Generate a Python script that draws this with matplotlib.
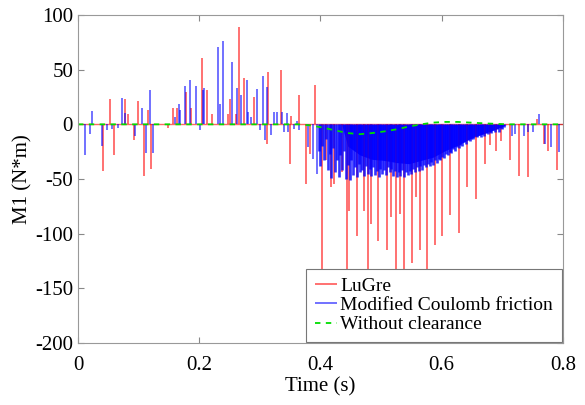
import matplotlib
matplotlib.use('Agg')
import matplotlib.pyplot as plt

# LuGre model spikes (time in s, M1 in N*m)
lugre_t = [0.041, 0.052, 0.060, 0.077, 0.083, 0.092, 0.099, 0.109, 0.116, 0.121,
           0.148, 0.157, 0.163, 0.179, 0.186, 0.204, 0.213, 0.221, 0.248, 0.251,
           0.260, 0.265, 0.274, 0.290, 0.312, 0.314, 0.335, 0.349, 0.352, 0.365,
           0.376, 0.383, 0.391,
           0.403, 0.409, 0.418, 0.422, 0.435, 0.444, 0.447, 0.460, 0.471, 0.479,
           0.484, 0.495, 0.509, 0.516, 0.524, 0.532, 0.537, 0.551, 0.558, 0.564,
           0.575, 0.589, 0.601, 0.613, 0.628, 0.642, 0.657, 0.671, 0.679, 0.690,
           0.697, 0.712, 0.727, 0.743, 0.757, 0.768, 0.776, 0.791]
lugre_v = [-43, 23, -28, 23, 9, -14, 21, -47, 13, -41,
           -3, 15, 15, 30, 15, 61, 31, 9, 9, 23,
           9, 89, 42, 25, -18, 48, 50, -36, 8, 27,
           -55, -27, 36,
           -160, -33, -57, -55, -44, -160, -79, -102, -79, -165,
           -91, -107, -115, -85, -160, -82, -165, -127, -66, -115,
           -160, -110, -102, -83, -99, -57, -68, -36, -19, -24,
           -15, -33, -47, -48, 5, -18, -24, -42]

# Modified Coulomb friction, isolated spikes
coul_t = [0.011, 0.020, 0.023, 0.040, 0.048, 0.056, 0.066, 0.073, 0.077, 0.094,
          0.105, 0.113, 0.119, 0.124, 0.160, 0.166, 0.168, 0.176, 0.184, 0.194,
          0.201, 0.206, 0.208, 0.231, 0.234, 0.239, 0.254, 0.263, 0.269, 0.278,
          0.281, 0.286, 0.296, 0.300, 0.306, 0.308, 0.312, 0.319, 0.323, 0.328,
          0.337, 0.340, 0.345, 0.347, 0.356, 0.361, 0.364, 0.380, 0.388, 0.395,
          0.716, 0.721, 0.735, 0.743, 0.750, 0.761, 0.770, 0.781, 0.794]
coul_v = [-28, -9, 12, -20, -5, -4, -3, 24, 10, -11,
          15, -26, 31, -26, 7, 19, 13, 35, 41, 35,
          -5, 31, 33, 71, 19, 76, 57, 33, 27, 41,
          11, 7, 32, -5, 44, -14, 34, -10, 11, 11,
          11, -7, 10, -7, -4, 3, -5, -21, -32, -45,
          -11, -9, -11, -7, -7, 9, -18, -21, -25]

# Modified Coulomb friction, dense impact region
dense_t = [0.397, 0.400, 0.403, 0.406, 0.409, 0.412, 0.415, 0.418, 0.421, 0.424,
           0.427, 0.430, 0.433, 0.436, 0.439, 0.442, 0.445, 0.448, 0.451, 0.454,
           0.457, 0.460, 0.463, 0.466, 0.469, 0.472, 0.475, 0.478, 0.481, 0.484,
           0.487, 0.490, 0.493, 0.496, 0.499, 0.502, 0.505, 0.508, 0.511, 0.514,
           0.517, 0.520, 0.523, 0.526, 0.529, 0.532, 0.535, 0.538, 0.541, 0.544,
           0.547, 0.550, 0.553, 0.556, 0.559, 0.562, 0.565, 0.568, 0.571, 0.574,
           0.577, 0.580, 0.583, 0.586, 0.589, 0.592, 0.595, 0.598, 0.601, 0.604,
           0.607, 0.610, 0.613, 0.616, 0.619, 0.622, 0.625, 0.628, 0.631, 0.634,
           0.637, 0.640, 0.643, 0.646, 0.649, 0.652, 0.655, 0.658, 0.661, 0.664,
           0.667, 0.670, 0.673, 0.676, 0.679, 0.682, 0.685, 0.688, 0.691, 0.694,
           0.697, 0.700, 0.703]
dense_v = [-24, -38, -20, -33, -13, -42, -27, -49, -22, -44,
           -33, -48, -28, -42, -24, -50, -37, -51, -33, -46,
           -39, -48, -36, -44, -42, -47, -38, -45, -41, -47,
           -39, -46, -43, -48, -41, -45, -42, -46, -39, -44,
           -41, -47, -43, -48, -44, -47, -42, -48, -44, -46,
           -43, -45, -41, -44, -39, -43, -38, -42, -37, -39,
           -36, -38, -34, -37, -33, -35, -32, -33, -30, -31,
           -27, -28, -25, -26, -23, -24, -21, -22, -19, -20,
           -16, -18, -14, -15, -13, -13, -11, -12, -10, -12,
           -9, -11, -8, -9, -7, -8, -5, -7, -4, -7,
           -3, -4, -2]

# solid core of the dense region
core_t = [0.435, 0.445, 0.465, 0.485, 0.505, 0.526, 0.546, 0.566, 0.586, 0.606,
          0.627, 0.647, 0.667, 0.687, 0.707]
core_v = [0, -20, -28, -32, -33, -35, -36, -33, -30, -24, -19, -13, -9, -5, 0]

# without clearance
ref_t = [0, 0.364, 0.384, 0.404, 0.424, 0.445, 0.465, 0.485, 0.505, 0.526, 0.546,
         0.566, 0.586, 0.606, 0.627, 0.647, 0.667, 0.687, 0.707, 0.8]
ref_v = [0, 0, -1, -3, -5.5, -8, -9, -8, -6.5, -4.5, -2,
         0, 1.6, 2.2, 2.2, 1.6, 1, 0.5, 0, 0]

plt.rcParams['font.family'] = 'Liberation Serif'
plt.rcParams['axes.unicode_minus'] = False

fig = plt.figure(figsize=(5.85, 4.05), dpi=100)
ax = fig.add_axes([0.1333, 0.153, 0.829, 0.81])

ax.plot([0, 0.8], [0, 0], color='red', lw=1, alpha=0.6)
ax.vlines(lugre_t, 0, lugre_v, color='red', lw=1.3, alpha=0.6, label='LuGre')
ax.fill_between(core_t, 0, core_v, color='blue', alpha=0.9, lw=0)
ax.vlines(dense_t, 0, dense_v, color='blue', lw=1.9, alpha=0.8)
ax.vlines(coul_t, 0, coul_v, color='blue', lw=1.3, alpha=0.6,
          label='Modified Coulomb friction')
ax.plot(ref_t, ref_v, color='#00dd00', ls=(0, (3, 3)), lw=1.3, label='Without clearance')

ax.set_xlim(0, 0.8)
ax.set_ylim(-200, 100)
ax.set_xticks([0, 0.2, 0.4, 0.6, 0.8])
ax.set_xticklabels(['0', '0.2', '0.4', '0.6', '0.8'])
ax.set_yticks([-200, -150, -100, -50, 0, 50, 100])
ax.tick_params(direction='in', top=True, right=True, labelsize=15, color='#888888', length=4)
ax.tick_params(axis='x', pad=9)
for s in ax.spines.values():
    s.set_color('#999999')
ax.set_xlabel('Time (s)', fontsize=15, labelpad=2)
ax.set_ylabel('M1 (N*m)', fontsize=15, labelpad=2)

leg = ax.legend(loc='lower right', fontsize=14, handlelength=1.1, handletextpad=0.2,
                borderpad=0.45, labelspacing=0.08, fancybox=False, framealpha=1,
                borderaxespad=0.05)
leg.get_frame().set_edgecolor('#777777')
leg.get_frame().set_linewidth(0.8)

fig.savefig('out.png', dpi=100)
